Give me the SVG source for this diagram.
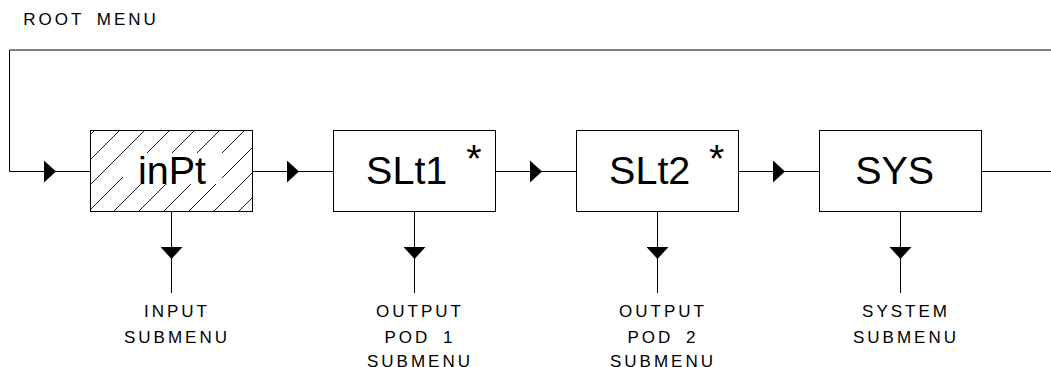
<svg xmlns="http://www.w3.org/2000/svg" width="1051" height="367" viewBox="0 0 1051 367">
<style>
.ln{fill:none;stroke:#000;stroke-width:1}
.box{fill:#fff;stroke:#000;stroke-width:1}
.lbl{font-family:"Liberation Sans",Arial,sans-serif;font-size:17px;letter-spacing:3px;word-spacing:5px;fill:#000;text-anchor:middle}
.big{font-family:"Liberation Sans",Arial,sans-serif;font-size:39.5px;fill:#000;text-anchor:middle}
</style>
<defs>
<marker id="arr" viewBox="0 0 12 22" markerWidth="12" markerHeight="22" refX="12" refY="11" orient="auto" markerUnits="userSpaceOnUse">
<path d="M0 0 L12 11 L0 22 Z" fill="#000"/>
</marker>
<pattern id="hatch" patternUnits="userSpaceOnUse" x="0" y="0" width="25" height="25">
<path d="M0 25 L25 0 M-2 2 L2 -2 M23 27 L27 23" stroke="#000" stroke-width="0.9"/>
</pattern>
<clipPath id="inclip"><rect x="90.5" y="130.5" width="162" height="81"/></clipPath>
</defs>
<rect width="1051" height="367" fill="#fff"/>
<text class="lbl" x="23.3" y="25" style="text-anchor:start">ROOT MENU</text>

<g id="connectors">
<path class="ln" d="M1051 50 H9.5 V171.5 H56" marker-end="url(#arr)"/>
<path class="ln" d="M56 171.5 H90.5"/>
<path class="ln" d="M252.5 171.5 H299" marker-end="url(#arr)"/>
<path class="ln" d="M299 171.5 H333.5"/>
<path class="ln" d="M495.5 171.5 H542" marker-end="url(#arr)"/>
<path class="ln" d="M542 171.5 H576.5"/>
<path class="ln" d="M738.5 171.5 H785" marker-end="url(#arr)"/>
<path class="ln" d="M785 171.5 H819.5"/>
<path class="ln" d="M981.5 171.5 H1051"/>
<path class="ln" d="M171.5 211.5 V259" marker-end="url(#arr)"/>
<path class="ln" d="M171.5 259 V293"/>
<path class="ln" d="M414.5 211.5 V259" marker-end="url(#arr)"/>
<path class="ln" d="M414.5 259 V293"/>
<path class="ln" d="M657.5 211.5 V259" marker-end="url(#arr)"/>
<path class="ln" d="M657.5 259 V293"/>
<path class="ln" d="M900.5 211.5 V259" marker-end="url(#arr)"/>
<path class="ln" d="M900.5 259 V293"/>
</g>

<g id="node-inPt">
<rect class="box" x="90.5" y="130.5" width="162" height="81"/>
<rect x="90.5" y="130.5" width="162" height="81" fill="url(#hatch)" clip-path="url(#inclip)"/>
<rect x="123" y="153" width="99" height="31" fill="#fff"/>
<rect x="90.5" y="130.5" width="162" height="81" fill="none" stroke="#000"/>
<text class="big" x="172" y="184">inPt</text>
</g>
<g id="node-SLt1">
<rect class="box" x="333.5" y="130.5" width="162" height="81"/>
<text class="big" x="406.7" y="184">SLt1</text>
<text class="big" x="474" y="172">*</text>
</g>
<g id="node-SLt2">
<rect class="box" x="576.5" y="130.5" width="162" height="81"/>
<text class="big" x="649.7" y="184">SLt2</text>
<text class="big" x="716.7" y="172">*</text>
</g>
<g id="node-SYS">
<rect class="box" x="819.5" y="130.5" width="162" height="81"/>
<text class="big" x="894.7" y="184">SYS</text>
</g>

<g id="label-input">
<text class="lbl" x="177" y="317">INPUT</text>
<text class="lbl" x="177" y="342.5">SUBMENU</text>
</g>
<g id="label-pod1">
<text class="lbl" x="420" y="317">OUTPUT</text>
<text class="lbl" x="420" y="342.5">POD 1</text>
<text class="lbl" x="420" y="366.5">SUBMENU</text>
</g>
<g id="label-pod2">
<text class="lbl" x="663" y="317">OUTPUT</text>
<text class="lbl" x="663" y="342.5">POD 2</text>
<text class="lbl" x="663" y="366.5">SUBMENU</text>
</g>
<g id="label-sys">
<text class="lbl" x="906" y="317">SYSTEM</text>
<text class="lbl" x="906" y="342.5">SUBMENU</text>
</g>
</svg>
